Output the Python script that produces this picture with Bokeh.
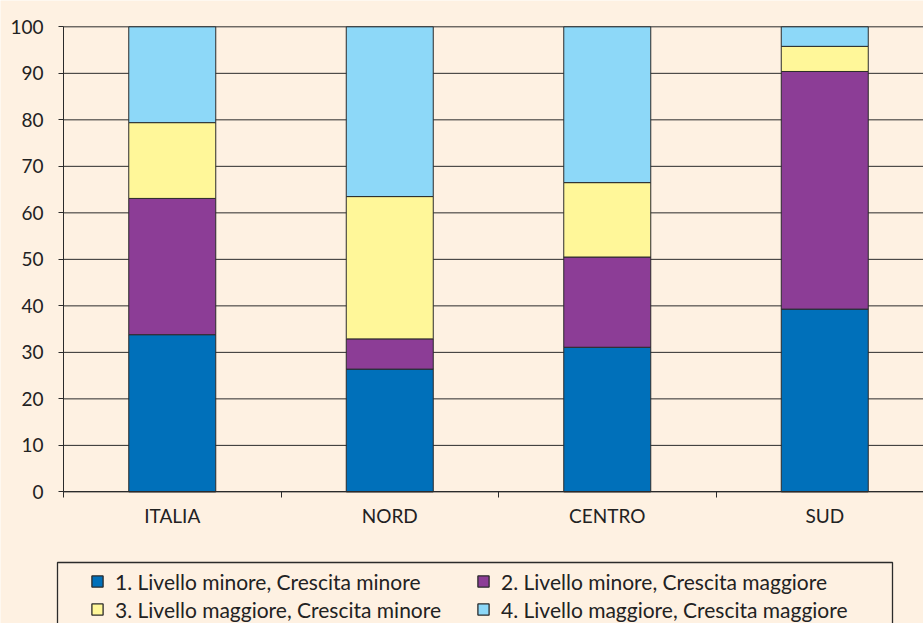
from bokeh.plotting import figure
from bokeh.models import (Range1d, FixedTicker, Legend, LegendItem, BoxAnnotation)
from bokeh.embed import file_html
from bokeh.resources import INLINE

categories = ["ITALIA", "NORD", "CENTRO", "SUD"]
s1 = [33.8, 26.4, 31.1, 39.3]   # 1. Livello minore, Crescita minore
s2 = [29.3, 6.5, 19.4, 51.1]    # 2. Livello minore, Crescita maggiore
s3 = [16.3, 30.6, 16.0, 5.4]    # 3. Livello maggiore, Crescita minore
s4 = [20.6, 36.5, 33.5, 4.2]    # 4. Livello maggiore, Crescita maggiore
series_names = ["1. Livello minore, Crescita minore",
                "2. Livello minore, Crescita maggiore",
                "3. Livello maggiore, Crescita minore",
                "4. Livello maggiore, Crescita maggiore"]
y_ticks = [0, 10, 20, 30, 40, 50, 60, 70, 80, 90, 100]

colors = ["#0070BA", "#8C3D96", "#FFF799", "#8DD8F8"]
BG = "#FEF1E2"
DARK = "#2b2b2b"
FONT = "Lato"

n = len(categories)
xs = [i + 0.5 for i in range(n)]
keys = ["s1", "s2", "s3", "s4"]
data = dict(x=xs, s1=s1, s2=s2, s3=s3, s4=s4)

# frame covers the whole canvas; axes are pinned at x=0 / y=0
p = figure(width=923, height=623, output_backend="svg", toolbar_location=None,
           x_range=Range1d(-0.2897, 3.954), y_range=Range1d(-28.3, 105.66),
           min_border_left=0, min_border_right=0, min_border_top=0,
           min_border_bottom=0)
p.background_fill_color = BG
p.border_fill_color = BG
p.outline_line_color = None
p.grid.visible = False

# horizontal grid lines (from the tick list), only over the plot area
p.segment(x0=[0] * len(y_ticks), x1=[n] * len(y_ticks), y0=y_ticks, y1=y_ticks,
          line_color=DARK, line_width=1)

rs = p.vbar_stack(keys, x="x", width=0.4, source=data, fill_color=colors,
                  line_color=DARK, line_width=1)

# hidden square markers used only for the legend glyphs
legend_rs = [p.scatter("x", k, source=data, marker="square", visible=False,
                       fill_color=c, line_color=DARK, line_width=1.3)
             for k, c in zip(keys, colors)]

# axes
p.xaxis.fixed_location = 0
p.xaxis.bounds = (0, n)
p.xaxis.ticker = FixedTicker(ticks=xs, minor_ticks=list(range(n + 1)))
p.xaxis.major_label_overrides = {x: c for x, c in zip(xs, categories)}
p.xaxis.major_tick_out = 0
p.xaxis.major_tick_in = 0
p.xaxis.minor_tick_out = 6
p.xaxis.minor_tick_in = 0
p.xaxis.minor_tick_line_color = DARK
p.xaxis.major_tick_line_color = None
p.xaxis.major_label_standoff = 6

p.yaxis.fixed_location = 0
p.yaxis.bounds = (0, 100)
p.yaxis.ticker = FixedTicker(ticks=y_ticks)
p.yaxis.major_tick_out = 5
p.yaxis.major_tick_in = 0
p.yaxis.minor_tick_line_color = None
p.yaxis.major_tick_line_color = DARK
p.yaxis.major_label_standoff = 15

for ax in (p.xaxis, p.yaxis):
    ax.axis_line_color = DARK
    ax.major_label_text_font = FONT
    ax.major_label_text_font_size = "19px"
    ax.major_label_text_color = "#222222"

legend = Legend(items=[LegendItem(label=s, renderers=[r]) for s, r in zip(series_names, legend_rs)],
                location=(83, 0), orientation="horizontal", ncols=2,
                padding=0, margin=0, border_line_alpha=0, background_fill_alpha=0,
                glyph_width=28, glyph_height=28, label_height=28, label_standoff=4,
                spacing=0, label_width=354, label_text_font=FONT,
                label_text_font_size="21px", label_text_color="#222222")
p.add_layout(legend, "center")

box = BoxAnnotation(left=57, right=892, top=61, bottom=-10,
                    left_units="screen", right_units="screen",
                    top_units="screen", bottom_units="screen",
                    fill_alpha=0, line_color=DARK, line_alpha=1, line_width=1.3)
p.add_layout(box)

open("out.html", "w").write(file_html(p, INLINE))
